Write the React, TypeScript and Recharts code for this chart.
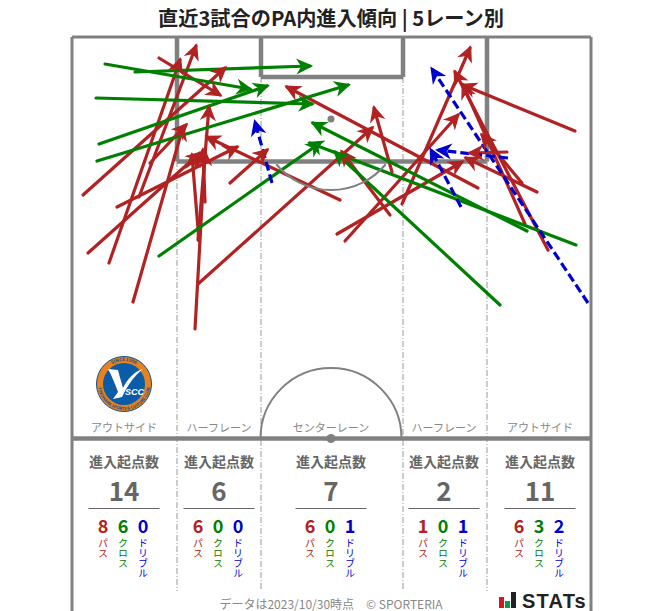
import React from "react";
import { ComposedChart, Line, ReferenceDot, ReferenceLine, XAxis, YAxis } from "recharts";

const WIDTH = 663;
const HEIGHT = 611;

// [startX, startY, endX, endY]
const passArrows = [
  [83, 195, 225, 68],
  [117, 207, 237, 147],
  [88, 253, 200, 153],
  [109, 263, 180, 60],
  [133, 302, 183, 127],
  [150, 163, 186, 125],
  [159, 58, 220, 95],
  [139, 197, 196, 46],
  [195, 329, 205, 152],
  [198, 284, 372, 128],
  [230, 183, 267, 150],
  [198, 240, 209, 107],
  [205, 202, 203, 150],
  [199, 241, 192, 155],
  [340, 200, 207, 137],
  [390, 215, 342, 152],
  [392, 172, 374, 108],
  [337, 234, 462, 162],
  [345, 241, 458, 115],
  [402, 204, 470, 48],
  [478, 188, 287, 87],
  [575, 131, 463, 85],
  [548, 250, 455, 72],
  [525, 224, 463, 85],
  [537, 192, 466, 158],
  [507, 152, 470, 153],
  [522, 183, 482, 135],
];
const crossArrows = [
  [105, 64, 250, 89],
  [135, 72, 310, 66],
  [96, 98, 312, 104],
  [99, 144, 267, 86],
  [97, 161, 348, 85],
  [159, 256, 320, 143],
  [527, 231, 313, 123],
  [576, 245, 310, 143],
  [500, 305, 335, 152],
];
const dribbleArrows = [
  [272, 183, 255, 122],
  [461, 207, 431, 150],
  [508, 158, 438, 150],
  [588, 303, 432, 69],
];

// solid pitch lines: [x1, y1, x2, y2, width]
const pitchLines = [
  [72, 37, 591, 37, 3],
  [72, 37, 72, 611, 3],
  [591, 37, 591, 611, 3],
  [72, 438.5, 591, 438.5, 4.5],
  [177, 37, 177, 161.5, 4.5],
  [487, 37, 487, 161.5, 4.5],
  [177, 161.5, 487, 161.5, 4.5],
  [261, 37, 261, 77, 4.5],
  [403, 37, 403, 77, 4.5],
  [261, 77, 403, 77, 4.5],
];
const laneLines = [
  [177, 161, 177, 591],
  [261, 77, 261, 591],
  [403, 77, 403, 591],
  [487, 161, 487, 591],
];

const laneNames = ["アウトサイド", "ハーフレーン", "センターレーン", "ハーフレーン", "アウトサイド"];
const laneCentres = [124, 219, 331, 444, 540];
const totals = [14, 6, 7, 2, 11];
const passCounts = [8, 6, 6, 1, 6];
const crossCounts = [6, 0, 0, 0, 3];
const dribbleCounts = [0, 0, 1, 1, 2];

const RED = "#b22222";
const GREEN = "#008000";
const BLUE = "#0000cd";
const PITCH = "#808080";
const FONT = "'Noto Sans CJK JP', 'Noto Sans', sans-serif";

function arrowHead(arrow: number[], color: string) {
  return (p: any) => {
    if (p.index !== 1) return <g key={p.index} />;
    const angle = (Math.atan2(arrow[3] - arrow[1], arrow[2] - arrow[0]) * 180) / Math.PI;
    return (
      <path
        key={p.index}
        d="M1.5 0 L-12 -6.5 L-8 0 L-12 6.5 Z"
        transform={`translate(${p.cx} ${p.cy}) rotate(${angle})`}
        fill={color}
        stroke={color}
        strokeWidth={1.3}
        strokeLinejoin="miter"
        strokeDasharray="none"
      />
    );
  };
}

function arrowSeries(arrows: number[][], color: string, name: string, dash?: string) {
  return arrows.map((a, i) => (
    <Line
      key={`${name}-${i}`}
      data={[
        { x: a[0], y: a[1] },
        { x: a[2], y: a[3] },
      ]}
      dataKey="y"
      stroke={color}
      strokeWidth={3.2}
      strokeDasharray={dash}
      strokeLinecap={dash ? "butt" : "round"}
      dot={arrowHead(a, color)}
      activeDot={false}
      legendType="none"
      isAnimationActive={false}
    />
  ));
}

function arc(start: number, end: number, radius: number) {
  return (p: any) => {
    const sx = p.cx + radius * Math.cos(start);
    const sy = p.cy + radius * Math.sin(start);
    const ex = p.cx + radius * Math.cos(end);
    const ey = p.cy + radius * Math.sin(end);
    return <path d={`M${sx} ${sy} A${radius} ${radius} 0 0 ${end > start ? 1 : 0} ${ex} ${ey}`} fill="none" stroke={PITCH} strokeWidth={2} />;
  };
}

function Logo() {
  return (
    <g>
      <defs>
        <path id="ringTop" d="M101 384 A23 23 0 0 1 147 384" />
        <path id="ringBottom" d="M98 384 A26 26 0 0 0 150 384" />
      </defs>
      <circle cx={124} cy={384} r={27.5} fill="#e8821e" stroke="#0b4f8f" strokeWidth={1} />
      <circle cx={124} cy={384} r={21} fill="#0a5ca8" />
      <text fontSize={4.5} fontWeight={700} fill="#0b4f8f" textAnchor="middle">
        <textPath href="#ringTop" startOffset="50%">SINCE 1986</textPath>
      </text>
      <text fontSize={4} fontWeight={700} fill="#0b4f8f" textAnchor="middle">
        <textPath href="#ringBottom" startOffset="50%">YOKOHAMA SPORTS &amp; CULTURE CLUB</textPath>
      </text>
      <path d="M108 369 L118 370 C120 378 122 384 123 388 C127 380 133 372 143 369 C134 376 127 386 122 397 L113 399 L118 392 C115 384 112 376 108 369 Z" fill="#fff" />
      <text x={134.5} y={395} textAnchor="middle" fontSize={9} fontWeight={700} fontStyle="italic" fill="#fff" fontFamily="'Liberation Sans', sans-serif">SCC</text>
    </g>
  );
}

function LaneStats({ i }: { i: number }) {
  const c = laneCentres[i];
  const sub = [
    { n: passCounts[i], label: "パス", color: RED },
    { n: crossCounts[i], label: "クロス", color: GREEN },
    { n: dribbleCounts[i], label: "ドリブル", color: BLUE },
  ];
  return (
    <g textAnchor="middle">
      <text x={c} y={432} fontSize={11} fill="#888">{laneNames[i]}</text>
      <text x={c} y={467} fontSize={14} fontWeight={700} fill="#666">進入起点数</text>
      <text x={c} y={501} fontSize={26} fontWeight={700} fill="#666">{totals[i]}</text>
      <line x1={c - 35.5} x2={c + 35.5} y1={508.5} y2={508.5} stroke="#666" strokeWidth={1} />
      {sub.map((s, k) => (
        <g key={s.label}>
          <text x={c - 21 + k * 20} y={533} fontSize={18} fontWeight={700} fill={s.color}>{s.n}</text>
          <text
            x={c - 21 + k * 20}
            y={538}
            fontSize={10}
            fill={s.color}
            textAnchor="start"
            style={{ writingMode: "vertical-rl" }}
          >
            {s.label}
          </text>
        </g>
      ))}
    </g>
  );
}

export default function App() {
  return (
    <div style={{ position: "absolute", left: 0, top: 0, width: WIDTH, height: HEIGHT, overflow: "hidden", background: "#fff" }}>
      <ComposedChart width={WIDTH} height={HEIGHT} margin={{ top: 0, right: 0, bottom: 0, left: 0 }}>
        <XAxis type="number" dataKey="x" domain={[0, WIDTH]} hide />
        <YAxis type="number" domain={[0, HEIGHT]} reversed hide />
        {laneLines.map((l, i) => (
          <ReferenceLine
            key={`lane-${i}`}
            segment={[{ x: l[0], y: l[1] }, { x: l[2], y: l[3] }]}
            stroke="#999"
            strokeWidth={1}
            strokeDasharray="6 2 1 2"
          />
        ))}
        {pitchLines.map((l, i) => (
          <ReferenceLine
            key={`pitch-${i}`}
            segment={[{ x: l[0], y: l[1] }, { x: l[2], y: l[3] }]}
            stroke={PITCH}
            strokeWidth={l[4]}
          />
        ))}
        <ReferenceDot x={331} y={119} r={3.5} fill={PITCH} stroke="none" />
        <ReferenceDot x={331} y={438.5} r={4.5} fill={PITCH} stroke="none" />
        <ReferenceDot x={331} y={119} shape={arc(Math.PI * 0.22, Math.PI * 0.78, 71)} />
        <ReferenceDot x={331} y={438.5} shape={arc(Math.PI, Math.PI * 2, 70.5)} />
        {arrowSeries(passArrows, RED, "pass")}
        {arrowSeries(crossArrows, GREEN, "cross")}
        {arrowSeries(dribbleArrows, BLUE, "dribble", "9 4")}
      </ComposedChart>
      <svg width={WIDTH} height={HEIGHT} style={{ position: "absolute", left: 0, top: 0, pointerEvents: "none" }} fontFamily={FONT}>
        <text x={331} y={26} textAnchor="middle" fontSize={20.2} fontWeight={700} fill="#222">
          直近3試合のPA内進入傾向 | 5レーン別
        </text>
        <Logo />
        {laneNames.map((_, i) => (
          <LaneStats key={i} i={i} />
        ))}
        <text x={331} y={609} textAnchor="middle" fontSize={12} fill="#888">
          データは2023/10/30時点　© SPORTERIA
        </text>
        <rect x={499} y={597} width={5} height={11} fill="#d7161c" />
        <rect x={505} y={601} width={5} height={7} fill="#0a9a4a" />
        <rect x={511} y={592} width={5} height={16} fill="#222" />
        <text x={522} y={608} fontSize={20} fontWeight={700} fill="#222" fontFamily="'Liberation Sans', sans-serif" letterSpacing={1.2}>
          STATs
        </text>
      </svg>
    </div>
  );
}
